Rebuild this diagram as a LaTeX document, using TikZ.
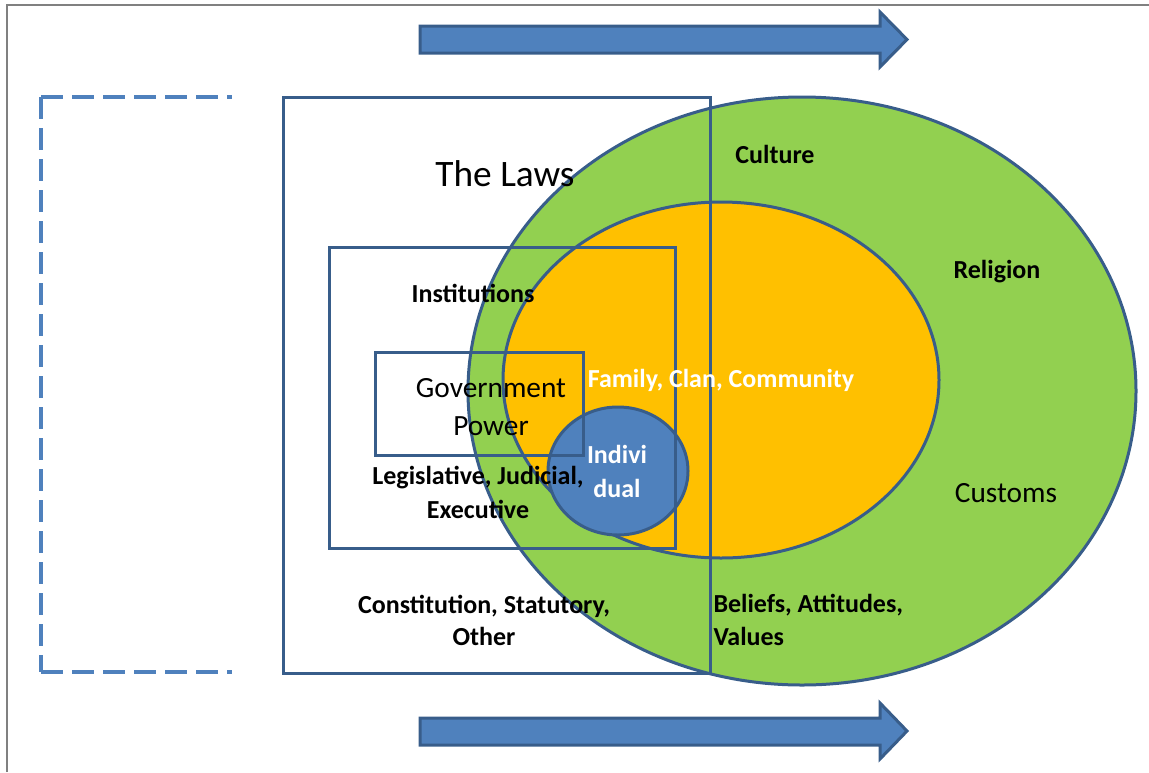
\documentclass[tikz,border=0pt]{standalone}
\usepackage{fontspec}
\setmainfont{Carlito}

\tikzset{every picture/.style={line width=0.75pt}}
\tikzset{
  outline/.style={draw={rgb, 255:red, 56; green, 93; blue, 138}, line width=2.25},
  bracket/.style={draw={rgb, 255:red, 79; green, 129; blue, 189}, line width=3, dash pattern={on 16.5pt off 6.75pt}},
  blockarrow/.style={outline, fill={rgb, 255:red, 79; green, 129; blue, 189}},
  smalltext/.style={inner sep=0.75pt, font=\fontsize{19.5}{24.75}\selectfont\bfseries},
  midtext/.style={inner sep=0.75pt, font=\fontsize{22}{28.5}\selectfont},
}

\begin{document}
\begin{tikzpicture}[x=0.75pt,y=0.75pt,yscale=-1,xscale=1]
\path [use as bounding box] (0,0) rectangle (1149,772);

%Straight Lines: page frame
\draw [color={rgb, 255:red, 128; green, 128; blue, 128}, line width=1.1] (7,772) -- (7,5) -- (1149,5) ;

%Shape: dashed bracket
\draw [bracket] (41,97) -- (232,97) ;
\draw [bracket] (41,97) -- (41,672) ;
\draw [bracket] (41,672) -- (232,672) ;

%Shape: Right Arrow
\draw [blockarrow] (420,26) -- (880,26) -- (880,12) -- (907,39.5) -- (880,67) -- (880,53) -- (420,53) -- cycle ;
%Shape: Right Arrow
\draw [blockarrow] (420,718) -- (880,718) -- (880,703) -- (907,731) -- (880,759) -- (880,745) -- (420,745) -- cycle ;

%Shape: Ellipse (culture)
\draw [outline, fill={rgb, 255:red, 146; green, 208; blue, 80}] (802,391) ellipse [x radius=334, y radius=294] ;
%Shape: Ellipse (family)
\draw [outline, fill={rgb, 255:red, 255; green, 192; blue, 0}] (721,380) ellipse [x radius=218, y radius=178] ;
%Shape: Ellipse (individual)
\draw [outline, fill={rgb, 255:red, 79; green, 129; blue, 189}] (618,471) ellipse [x radius=70, y radius=64] ;

%Shape: Rectangle (laws)
\draw [outline] (283,97) rectangle (710,673) ;
%Shape: Rectangle (institutions)
\draw [outline] (329,247) rectangle (675,548) ;
%Shape: Rectangle (government)
\draw [outline] (375,352) rectangle (583,455) ;

% Text Node
\draw (505,186) node [anchor=base, inner sep=0.75pt, font=\fontsize{28}{34}\selectfont] (laws) {The Laws};
% Text Node
\draw (775,163) node [anchor=base, smalltext] (culture) {Culture};
% Text Node
\draw (997,278) node [anchor=base, smalltext] (religion) {Religion};
% Text Node
\draw (473,302) node [anchor=base, smalltext] (institutions) {Institutions};
% Text Node
\draw (721,387) node [anchor=base, smalltext, text=white] (family) {Family, Clan, Community};
% Text Node
\draw (1006,502) node [anchor=base, midtext] (customs) {Customs};
% Text Node
\draw (491,435) node [anchor=base, midtext, align=center] (government) {Government\\Power};
% Text Node
\draw (617,497) node [anchor=base, smalltext, align=center, text=white, font=\fontsize{19.5}{25.5}\selectfont\bfseries] (individual) {Indivi\\dual};
% Text Node
\draw (478,518) node [anchor=base, smalltext, align=center, font=\fontsize{19.5}{25.5}\selectfont\bfseries] (branches) {Legislative, Judicial,\\Executive};
% Text Node
\draw (484,645) node [anchor=base, smalltext, align=center, font=\fontsize{19.5}{24}\selectfont\bfseries] (sources) {Constitution, Statutory,\\Other};
% Text Node
\draw (712,645) node [anchor=base west, smalltext, align=left] (beliefs) {Beliefs, Attitudes,\\Values};

\end{tikzpicture}
\end{document}
